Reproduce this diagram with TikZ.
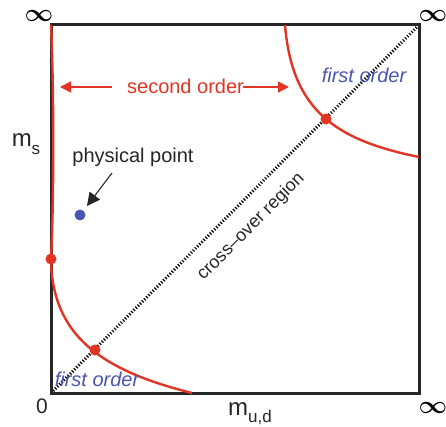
\documentclass[tikz,border=0pt]{standalone}
\usepackage{fontspec}
\setmainfont{Liberation Sans}
\usetikzlibrary{arrows.meta}
\definecolor{cred}{HTML}{E23424}
\definecolor{cblue}{HTML}{4A55B0}
\definecolor{cdark}{HTML}{262626}
\begin{document}
\begin{tikzpicture}[x=1pt,y=-1pt,
  lbl/.style={font=\fontsize{20}{22}\selectfont, text=cdark, inner sep=0pt},
  redlbl/.style={lbl, text=cred},
  bluelbl/.style={lbl, text=cblue, font=\fontsize{20}{22}\selectfont\itshape},
  inf/.style={inner sep=0pt, text=black, font=\fontsize{25}{25}\selectfont\boldmath},
  curve/.style={draw=cred, line width=2.4pt},
  reddot/.style={circle, fill=cred, minimum size=11pt, inner sep=0pt},
  bluedot/.style={circle, fill=cblue, minimum size=11pt, inner sep=0pt},
  redarrow/.style={draw=cred, line width=1.3pt, -{Triangle[length=11pt,width=11pt]}},
  blackarrow/.style={draw=cdark, line width=1.1pt, -{Triangle[length=13pt,width=13pt]}},
  diag/.style={draw=black, line width=3pt, dash pattern=on 1.2pt off 1.8pt}
]
\useasboundingbox (0,0) rectangle (446,427);

% frame corners
\coordinate (BL) at (51,393);
\coordinate (TR) at (419,25);
\coordinate (TL) at (51,25);
\coordinate (BR) at (419,393);

% diagonal cross-over line
\draw[diag] (BL) -- (TR);

% frame
\draw[cdark, line width=3pt] (BL) rectangle (TR);

% red curves
\draw[curve] (TL) .. controls (54,90) and (54,200) .. (51,259)
  .. controls (52,335) and (100,370) .. (192,393);
\draw[curve] (285,25) .. controls (292,110) and (335,140) .. (419,157);

% dots
\node[reddot] (d1) at (51,259) {};
\node[reddot] (d2) at (95,350) {};
\node[reddot] (d3) at (326,119) {};
\node[bluedot] (phys) at (80,215) {};

% labels
\node[inf] (i1) at (39,16) {$\infty$};
\node[inf] (i2) at (433,16) {$\infty$};
\node[inf] (i3) at (433,408) {$\infty$};
\node[lbl, font=\fontsize{21}{22}\selectfont] (zero) at (42,406) {0};
\node[lbl, font=\fontsize{24}{24}\selectfont, anchor=base] (ms) at (26,147) {m\raisebox{-0.3em}{\fontsize{17}{17}\selectfont s}};
\node[lbl, font=\fontsize{24}{24}\selectfont, anchor=base] (mud) at (250,415) {m\raisebox{-0.3em}{\fontsize{17}{17}\selectfont u,d}};

\node[redlbl] (so) at (185.5,86) {second order};
\coordinate (la) at (60,87);
\coordinate (ra) at (289,87);
\draw[redarrow] (112,87) coordinate (ls) -- (la);
\draw[redarrow] (so.east) ++(-1,1) coordinate (rs) -- (ra);

\node[bluelbl] (fo1) at (364,75) {first order};
\node[bluelbl] (fo2) at (97,379) {first order};

\node[lbl] (pp) at (133,157) {physical point};
\coordinate (pa) at (112,173);
\coordinate (pt) at (87,206);
\draw[blackarrow] (pa) -- (pt);

\node[lbl, font=\fontsize{18}{20}\selectfont, rotate=45] (co) at (251,227) {cross–over region};
\end{tikzpicture}
\end{document}
